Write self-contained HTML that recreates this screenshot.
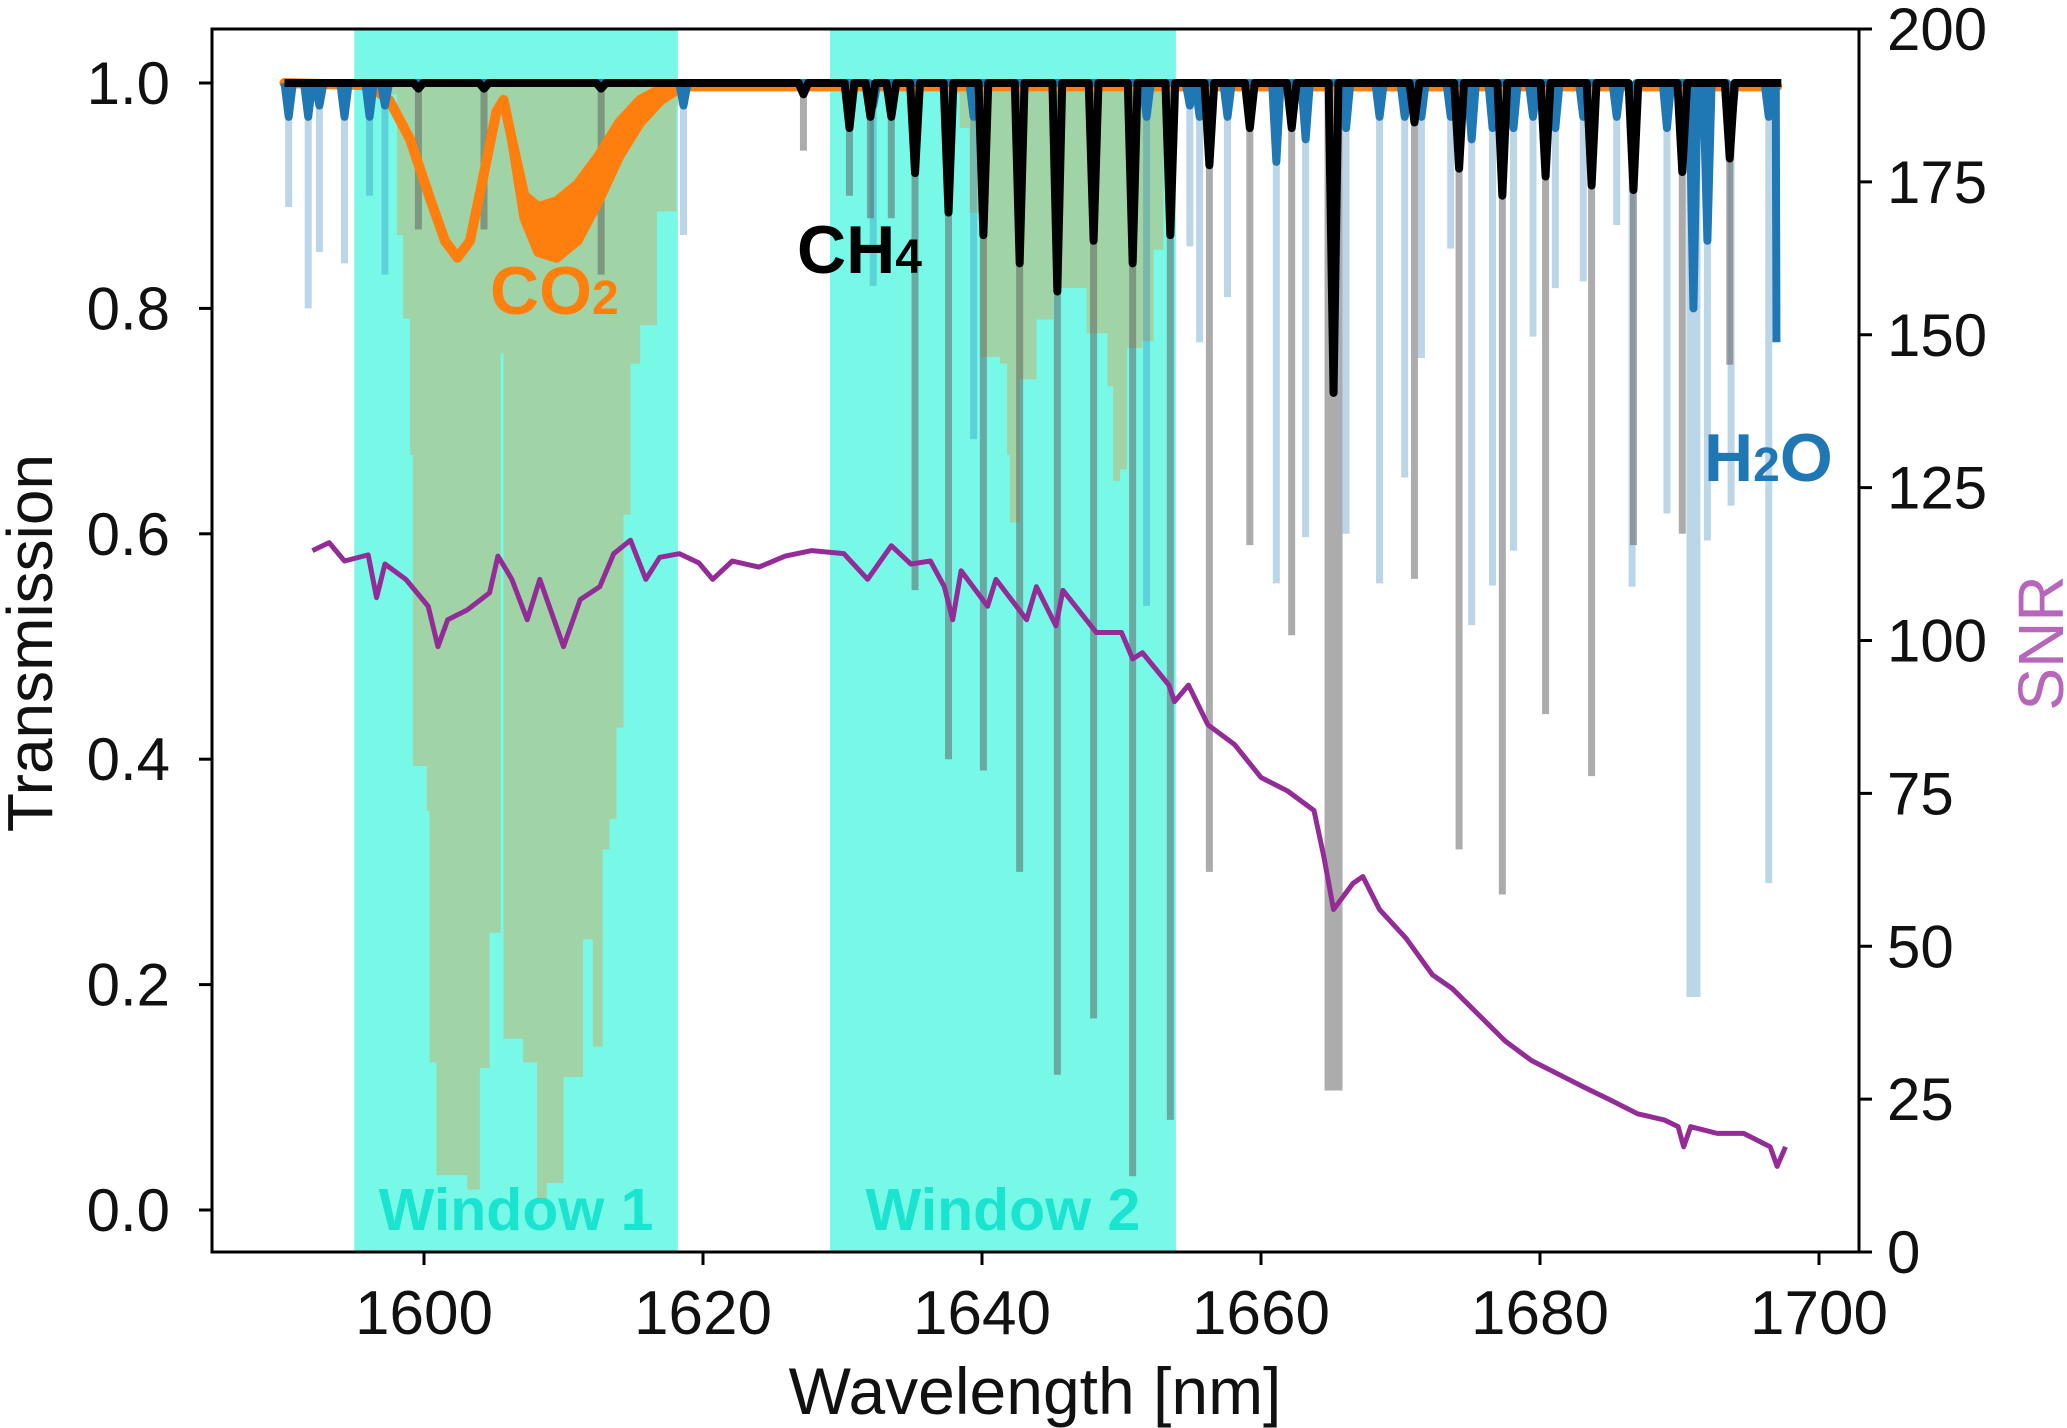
<!DOCTYPE html>
<html><head><meta charset="utf-8">
<style>
html,body{margin:0;padding:0;background:#fff;}
svg{display:block;font-family:"Liberation Sans",sans-serif;}
</style></head>
<body>
<svg id="chart" width="2067" height="1428" viewBox="0 0 2067 1428">
<g id="bg"></g>
<g id="marks"></g>
<g id="axes"></g>
</svg>
<script>
// ---- data ----
const windowStarts = [1595.0, 1629.1];
const windowEnds = [1618.2, 1653.9];
const windowLabels = ["Window 1", "Window 2"];

const co2FillWl = [1597.6,1598.06,1598.5,1599.0,1599.2,1600.2,1600.4,1600.9,1601.9,1603.1,1604.0,1604.7,1605.3,1605.5,1605.7,1606.2,1607.1,1608.1,1608.8,1610.0,1611.4,1612.1,1612.8,1613.3,1613.8,1614.3,1614.8,1615.5,1616.7,1618.1,1618.3];
const co2FillT  = [0.99,0.865,0.791,0.670,0.394,0.354,0.131,0.031,0.031,0.018,0.126,0.246,0.246,0.76,0.152,0.152,0.131,0.010,0.024,0.118,0.240,0.145,0.320,0.347,0.428,0.617,0.751,0.785,0.886,0.980,0.99];
const co2Fill2Wl = [1638.0,1638.4,1639.1,1639.9,1641.3,1641.8,1642.0,1642.7,1643.9,1645.1,1647.0,1647.5,1649.0,1649.4,1649.9,1650.4,1651.5,1652.3,1653.0,1653.4];
const co2Fill2T  = [0.99,0.96,0.885,0.757,0.751,0.67,0.61,0.737,0.79,0.818,0.818,0.778,0.731,0.647,0.657,0.765,0.771,0.852,0.98,0.99];

const co2Wl  = [1590,1596,1597.5,1599,1600.5,1601.5,1602.4,1603.3,1604.3,1605.2,1605.7,1606.3,1607.2,1608.2,1609.5,1611,1612.5,1614,1615.5,1617,1618.5,1697];
const co2T   = [1.0,0.998,0.985,0.95,0.895,0.86,0.845,0.86,0.92,0.975,0.985,0.95,0.89,0.87,0.87,0.885,0.915,0.95,0.975,0.99,0.997,0.997];
const co2Spread = [0,0,0,0,0,0,0,0,0,0,0,0,0.01,0.02,0.025,0.025,0.02,0.015,0.01,0.005,0,0];

const h2oWl   = [1590.3,1591.7,1592.5,1594.3,1596.1,1597.2,1618.6,1632.2,1639.4,1651.8,1654.9,1655.6,1657.6,1661.1,1663.2,1666.1,1668.5,1670.3,1671.5,1673.6,1675.1,1676.6,1678.1,1679.5,1681.1,1683.1,1685.5,1686.6,1689.1,1691.0,1692.0,1693.7,1696.4];
const h2oBottom=[0.89,0.80,0.85,0.84,0.90,0.83,0.865,0.82,0.684,0.536,0.855,0.77,0.81,0.556,0.597,0.60,0.556,0.65,0.756,0.853,0.519,0.554,0.585,0.775,0.818,0.824,0.874,0.553,0.618,0.189,0.594,0.625,0.29];
const h2oCore = [0.97,0.97,0.98,0.97,0.97,0.98,0.98,0.98,0.97,0.97,0.98,0.97,0.97,0.93,0.95,0.96,0.97,0.97,0.97,0.97,0.95,0.96,0.96,0.97,0.96,0.97,0.97,0.97,0.96,0.80,0.86,0.96,0.97];
const h2oEndT = 0.77;

const ch4Wl   = [1599.6,1604.3,1612.7,1627.2,1630.5,1632.0,1633.5,1635.2,1637.6,1640.1,1642.7,1645.4,1648.0,1650.8,1653.5,1656.3,1659.2,1662.2,1665.2,1671.0,1674.2,1677.3,1680.4,1683.7,1686.7,1690.2,1693.6];
const ch4Bottom=[0.87,0.87,0.83,0.94,0.90,0.88,0.88,0.55,0.40,0.39,0.30,0.12,0.17,0.03,0.08,0.30,0.59,0.51,0.106,0.56,0.32,0.28,0.44,0.385,0.59,0.60,0.75];
const ch4Core = [0.995,0.995,0.995,0.99,0.96,0.97,0.97,0.92,0.885,0.865,0.84,0.815,0.86,0.84,0.865,0.927,0.96,0.96,0.725,0.965,0.924,0.90,0.917,0.909,0.905,0.921,0.933];

const snrWl = [1592.0,1593.2,1594.3,1596.0,1596.6,1597.2,1598.7,1600.3,1601.0,1601.7,1603.1,1604.7,1605.3,1606.3,1607.4,1608.3,1610.0,1611.2,1612.6,1613.6,1614.8,1615.9,1616.9,1618.3,1619.7,1620.7,1622.1,1624.0,1625.9,1627.8,1630.1,1631.8,1633.5,1634.9,1636.3,1637.3,1637.9,1638.5,1640.4,1641.0,1643.2,1643.9,1645.3,1645.8,1648.2,1650.0,1650.8,1651.5,1653.4,1653.8,1654.8,1656.2,1658.1,1660.0,1661.9,1663.8,1664.5,1665.2,1666.6,1667.3,1668.5,1670.4,1672.3,1673.7,1675.6,1677.5,1679.4,1681.3,1683.2,1685.1,1687.0,1688.9,1689.9,1690.3,1690.8,1692.7,1694.6,1696.5,1697.0,1697.6];
const snrVal = [114.7,116,113,114,107,112.5,110,105.6,99,103.4,105,107.8,113.8,110,103.4,110,99,106.7,108.8,114.2,116.4,110,113.6,114.2,112.7,110,113,112,113.8,114.7,114.2,110,115.5,112.5,113,108.8,103.4,111.4,105.6,110,103.4,108.8,102.4,108.2,101.3,101.3,97,98,92.7,90,92.7,86.2,83,77.6,75.4,72.2,64.7,56,60.3,61.4,56,51.3,45.3,43.1,38.8,34.5,31.3,29.1,26.9,24.8,22.6,21.6,20.5,17.2,20.5,19.4,19.4,17.2,14,17.2];

const tTicks = [0.0,0.2,0.4,0.6,0.8,1.0];
const tTickLabels = ["0.0","0.2","0.4","0.6","0.8","1.0"];
const sTicks = [0,25,50,75,100,125,150,175,200];
const sTickLabels = ["0","25","50","75","100","125","150","175","200"];
const xTicks = [1600,1620,1640,1660,1680,1700];
const xTickLabels = ["1600","1620","1640","1660","1680","1700"];

// ---- scales ----
const PL=212, PR=1859, PT=29, PB=1252;
function X(w){return 424+(w-1600)*13.95;}
function Y(t){return 1210-t*1127;}
function S(s){return 1252-s*6.115;}

const NS="http://www.w3.org/2000/svg";
function mk(tag, attrs, parent){
  const e=document.createElementNS(NS,tag);
  for(const k in attrs) e.setAttribute(k,attrs[k]);
  parent.appendChild(e); return e;
}
const bg=document.getElementById('bg');
const marks=document.getElementById('marks');
const axes=document.getElementById('axes');

// windows
for(let i=0;i<windowStarts.length;i++){
  const r=mk('rect',{x:X(windowStarts[i]),y:PT,width:X(windowEnds[i])-X(windowStarts[i]),height:PB-PT,fill:'#78f9e8'},bg);
  
  
  const t=mk('text',{x:(X(windowStarts[i])+X(windowEnds[i]))/2,y:1230,'text-anchor':'middle','font-size':59,'font-weight':'bold',fill:'#1ae3cf'},bg);
  t.textContent=windowLabels[i];
  
  
}

// CO2 fills
function fillPoly(wl,tv,name){
  let d='M'+X(wl[0])+','+Y(1);
  for(let i=0;i<wl.length;i++){
    if(i>0) d+=' L'+X(wl[i])+','+Y(tv[i-1]);
    d+=' L'+X(wl[i])+','+Y(tv[i]);
  }
  d+=' L'+X(wl[wl.length-1])+','+Y(1)+' Z';
  const p=mk('path',{d:d,fill:'rgba(255,127,14,0.3)'},marks);
  
  
}
fillPoly(co2FillWl,co2FillT,'co2-saturated-fill-1');
fillPoly(co2Fill2Wl,co2Fill2T,'co2-saturated-fill-2');

// H2O saturated lines
for(let i=0;i<h2oWl.length;i++){
  const wide = h2oBottom[i]<0.25 ? 14 : 7;
  const l=mk('line',{x1:X(h2oWl[i]),x2:X(h2oWl[i]),y1:Y(1),y2:Y(h2oBottom[i]),stroke:'rgba(31,119,180,0.3)','stroke-width':wide},marks);
  
  
}
// CH4 saturated lines
for(let i=0;i<ch4Wl.length;i++){
  const wide = ch4Bottom[i]<0.12 && ch4Wl[i]>1660 ? 18 : 7;
  const l=mk('line',{x1:X(ch4Wl[i]),x2:X(ch4Wl[i]),y1:Y(1),y2:Y(ch4Bottom[i]),stroke:'rgba(90,90,90,0.5)','stroke-width':wide},marks);
  
  
}

// CO2 transmission curve (band)
{
  let up='',lo='';
  for(let i=0;i<co2Wl.length;i++){
    up+=(i?' L':'M')+X(co2Wl[i])+','+Y(co2T[i]+co2Spread[i]);
  }
  for(let i=co2Wl.length-1;i>=0;i--){
    lo+=' L'+X(co2Wl[i])+','+Y(co2T[i]-co2Spread[i]);
  }
  const p=mk('path',{d:up+lo+' Z',fill:'#ff7f0e',stroke:'#ff7f0e','stroke-width':10,'stroke-linejoin':'round'},marks);
  
  
}

// dip path helper
function dipPath(wl,core,start,end,endT,half){
  let d='M'+X(start)+','+Y(1);
  for(let i=0;i<wl.length;i++){
    d+=' L'+X(wl[i]-half)+','+Y(1)+' L'+X(wl[i])+','+Y(core[i])+' L'+X(wl[i]+half)+','+Y(1);
  }
  d+=' L'+X(end)+','+Y(1);
  if(endT!==null) d+=' L'+X(end+0.05)+','+Y(endT);
  return d;
}
{
  const p=mk('path',{d:dipPath(h2oWl,h2oCore,1590,1696.9,h2oEndT,0.3),fill:'none',stroke:'#1f77b4','stroke-width':8,'stroke-linejoin':'round'},marks);
  
  
}
{
  const p=mk('path',{d:dipPath(ch4Wl,ch4Core,1590,1697.3,null,0.35),fill:'none',stroke:'#000','stroke-width':8,'stroke-linejoin':'round'},marks);
  
  
}

// SNR
{
  let d='';
  for(let i=0;i<snrWl.length;i++) d+=(i?' L':'M')+X(snrWl[i])+','+S(snrVal[i]);
  const p=mk('path',{d:d,fill:'none',stroke:'#932c97','stroke-width':5,'stroke-linejoin':'round'},marks);
  
  
}

// species labels
function lbl(x,y,main,sub,tail,color,name){
  const t=mk('text',{x:x,y:y,'font-size':68,'font-weight':'bold',fill:color},marks);
  
  
  const a=mk('tspan',{},t); a.textContent=main;
  const b=mk('tspan',{'font-size':48},t); b.textContent=sub;
  if(tail){const c=mk('tspan',{'font-size':68},t); c.textContent=tail;}
}
lbl(490,314,'CO','2','','#ff7f0e','co2-label');
lbl(797,273,'CH','4','','#000','ch4-label');
lbl(1704,481,'H','2','O','#1f77b4','h2o-label');

// axes frame
{
  const f=mk('rect',{x:PL,y:PT,width:PR-PL,height:PB-PT,fill:'none',stroke:'#000','stroke-width':3},axes);
  
  
}
for(let i=0;i<tTicks.length;i++){
  const y=Y(tTicks[i]);
  const l=mk('line',{x1:PL-13,x2:PL,y1:y,y2:y,stroke:'#000','stroke-width':3},axes);
  
  
  const t=mk('text',{x:PL-42,y:y+21,'text-anchor':'end','font-size':60,fill:'#111'},axes);
  t.textContent=tTickLabels[i];
  
  
}
for(let i=0;i<sTicks.length;i++){
  const y=S(sTicks[i]);
  const l=mk('line',{x1:PR,x2:PR+13,y1:y,y2:y,stroke:'#000','stroke-width':3},axes);
  
  
  const t=mk('text',{x:PR+28,y:y+21,'text-anchor':'start','font-size':60,fill:'#111'},axes);
  t.textContent=sTickLabels[i];
  
  
}
for(let i=0;i<xTicks.length;i++){
  const x=X(xTicks[i]);
  const l=mk('line',{x1:x,x2:x,y1:PB,y2:PB+13,stroke:'#000','stroke-width':3},axes);
  
  
  const t=mk('text',{x:x,y:PB+82,'text-anchor':'middle','font-size':62,fill:'#111'},axes);
  t.textContent=xTickLabels[i];
  
  
}
{
  const t=mk('text',{x:1035,y:1414,'text-anchor':'middle','font-size':66,fill:'#111'},axes);
  t.textContent='Wavelength [nm]';
  
  
  const t2=mk('text',{x:0,y:0,'text-anchor':'middle','font-size':64,fill:'#111',transform:'translate(52,643) rotate(-90)'},axes);
  t2.textContent='Transmission';
  
  
  const t3=mk('text',{x:0,y:0,'text-anchor':'middle','font-size':64,fill:'#b865bc',transform:'translate(2063,643) rotate(-90)'},axes);
  t3.textContent='SNR';
  
  
}
</script>
</body></html>
